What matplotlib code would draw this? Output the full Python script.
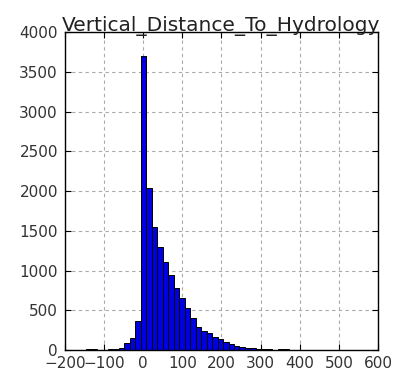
import matplotlib
matplotlib.use("Agg")
import matplotlib.pyplot as plt
import numpy as np

title = "Vertical_Distance_To_Hydrology"
bin_start = -146
bin_width = 14
counts = [10, 8, 4, 4, 12, 18, 28, 84, 147, 369,
          3700, 2040, 1550, 1300, 1110, 940, 776, 650, 524, 398,
          293, 243, 209, 168, 134, 105, 75, 55, 42, 29,
          21, 15, 10, 12, 6, 10, 8, 3, 2, 1,
          1, 0, 0, 0, 0, 0, 0, 0, 0, 1]
x_ticks = [-200, -100, 0, 100, 200, 300, 400, 500, 600]
y_ticks = [0, 500, 1000, 1500, 2000, 2500, 3000, 3500, 4000]

edges = bin_start + bin_width * np.arange(len(counts) + 1)
centers = (edges[:-1] + edges[1:]) / 2

fig = plt.figure(figsize=(3.93, 3.77), dpi=100)
ax = fig.add_axes([0.165, 0.0716, 0.797, 0.843])
ax.hist(centers, bins=edges, weights=counts, color="#0000e0",
        edgecolor="black", linewidth=0.7)
ax.set_xlim(-200, 600)
ax.set_ylim(0, 4000)
ax.set_xticks(x_ticks)
ax.set_yticks(y_ticks)
ax.tick_params(direction="in", top=True, right=True, labelsize=11,
               length=4, colors="black")
ax.tick_params(axis="x", pad=4)
ax.tick_params(axis="y", pad=5)
for lab in ax.get_xticklabels() + ax.get_yticklabels():
    lab.set_color("#333333")
ax.grid(True, linestyle=(0, (3, 3)), color="#aaaaaa", linewidth=0.8)
ax.set_axisbelow(True)
for s in ax.spines.values():
    s.set_linewidth(1.0)
ax.set_title(title, fontsize=14.5, pad=1, color="#222222")
fig.savefig("out.png", dpi=100)
